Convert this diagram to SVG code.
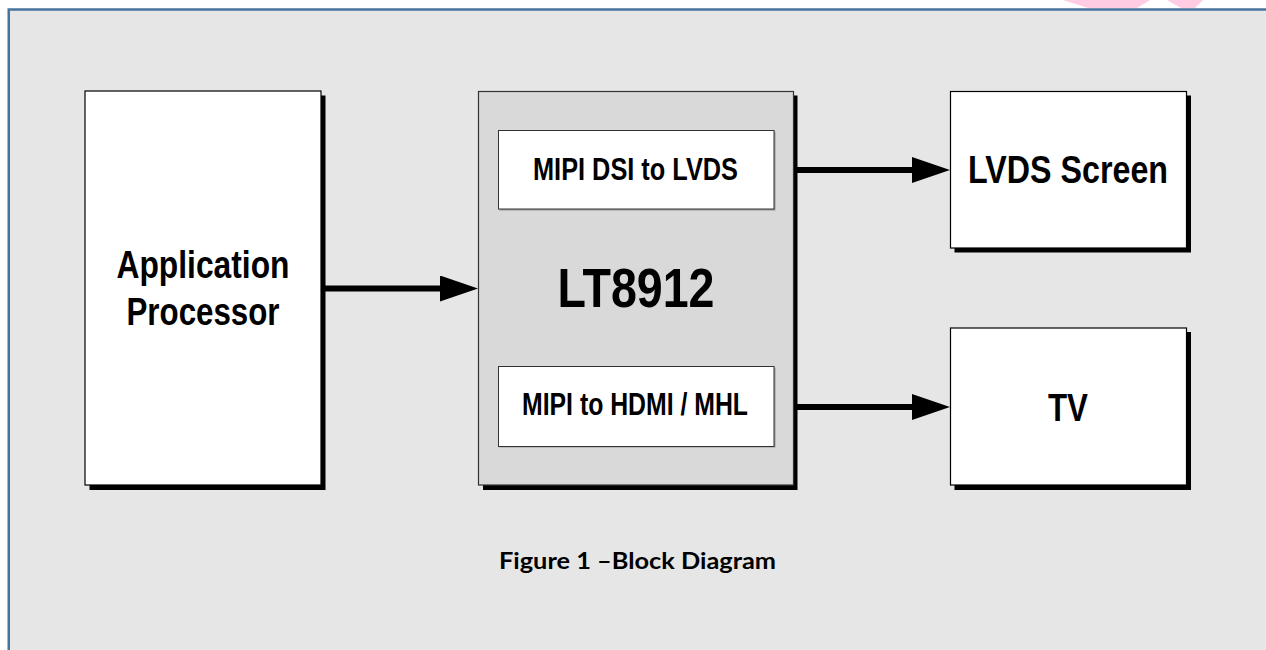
<svg xmlns="http://www.w3.org/2000/svg" width="1266" height="650" viewBox="0 0 1266 650">
  <style>
    .shadow { fill: #000000; }
    .box { fill: #ffffff; stroke: #000000; stroke-width: 1.2; }
    .chip { fill: #d9d9d9; stroke: #333333; stroke-width: 1.2; }
    .inner { fill: #ffffff; stroke: #333333; stroke-width: 1; }
    .innershadow { fill: #9a9a9a; }
    .lbl { font-family: "Liberation Sans Narrow", "Liberation Sans", Arial, sans-serif; font-weight: bold; fill: #000000; text-anchor: middle; }
    .cap { font-family: Lato, "Noto Sans", sans-serif; font-weight: bold; fill: #000000; text-anchor: middle; font-size: 22px; }
    .conn { stroke: #000000; stroke-width: 6; fill: none; }
  </style>
  <defs>
    <marker id="arrow" markerUnits="userSpaceOnUse" markerWidth="38" markerHeight="26" refX="5" refY="13" orient="auto">
      <path d="M0,0 L38,13 L0,26 Z" fill="#000000"/>
    </marker>
  </defs>

  <rect x="0" y="0" width="1266" height="650" fill="#ffffff"/>
  <g id="watermark">
    <polygon points="1063,0 1150,0 1137,8 1088,8" fill="#ffcce3"/>
    <polygon points="1167,0 1203,0 1195,8 1181,8" fill="#ffcce3"/>
  </g>
  <g id="frame">
    <rect x="8.5" y="9.5" width="1258" height="641" fill="#e6e6e6"/>
    <path d="M8.75,650 L8.75,9.6 L1266,9.6" fill="none" stroke="#48739e" stroke-width="2.5"/>
  </g>

  <g id="connectors">
    <line class="conn" x1="325" y1="288.5" x2="445" y2="288.5" marker-end="url(#arrow)"/>
    <line class="conn" x1="797" y1="170" x2="917" y2="170" marker-end="url(#arrow)"/>
    <line class="conn" x1="797" y1="407" x2="917" y2="407" marker-end="url(#arrow)"/>
  </g>

  <g id="app-processor">
    <rect class="shadow" x="89.5" y="95.5" width="236" height="394.5"/>
    <rect class="box" x="85" y="91" width="236" height="394"/>
    <text class="lbl" x="203" y="278" font-size="38" textLength="173" lengthAdjust="spacingAndGlyphs">Application</text>
    <text class="lbl" x="203" y="325" font-size="38" textLength="153" lengthAdjust="spacingAndGlyphs">Processor</text>
  </g>

  <g id="lt8912">
    <rect class="shadow" x="483" y="95.5" width="314.5" height="394.5"/>
    <rect class="chip" x="478.5" y="91.5" width="315" height="393.5"/>
    <text class="lbl" x="636" y="307" font-size="55" textLength="157" lengthAdjust="spacingAndGlyphs">LT8912</text>
  </g>

  <g id="mipi-dsi-lvds">
    <rect class="innershadow" x="499.5" y="131.5" width="276" height="79"/>
    <rect class="inner" x="498.5" y="130.5" width="275.5" height="78.5"/>
    <text class="lbl" x="635.5" y="180" font-size="30.5" textLength="205" lengthAdjust="spacingAndGlyphs">MIPI DSI to LVDS</text>
  </g>

  <g id="mipi-hdmi-mhl">
    <rect class="innershadow" x="499.5" y="367.5" width="276" height="80"/>
    <rect class="inner" x="498.5" y="366.5" width="275.5" height="80"/>
    <text class="lbl" x="635" y="415" font-size="30.5" textLength="226" lengthAdjust="spacingAndGlyphs">MIPI to HDMI / MHL</text>
  </g>

  <g id="lvds-screen">
    <rect class="shadow" x="954.5" y="95.5" width="236.5" height="157"/>
    <rect class="box" x="950.5" y="91.5" width="236" height="156.5"/>
    <text class="lbl" x="1068" y="183" font-size="38" textLength="200" lengthAdjust="spacingAndGlyphs">LVDS Screen</text>
  </g>

  <g id="tv">
    <rect class="shadow" x="954.5" y="332" width="236.5" height="158"/>
    <rect class="box" x="950.5" y="328" width="236" height="157"/>
    <text class="lbl" x="1068" y="421" font-size="38" textLength="40" lengthAdjust="spacingAndGlyphs">TV</text>
  </g>

  <g id="caption">
    <text class="cap" x="637.5" y="569" textLength="277" lengthAdjust="spacingAndGlyphs">Figure 1 –Block Diagram</text>
  </g>
</svg>
